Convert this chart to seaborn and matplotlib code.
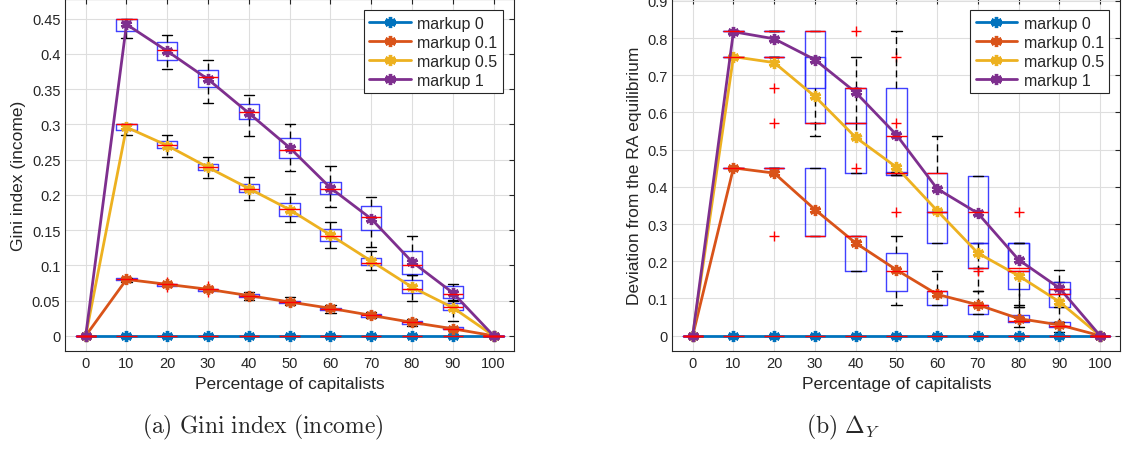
#!/usr/bin/env python3
"""
Gini index and deviation from the RA equilibrium vs percentage of capitalists.
Boxplots from summary stats + mean lines per markup level.
"""

import matplotlib
matplotlib.use("Agg")
import matplotlib.pyplot as plt
import seaborn as sns

# x positions (percentage of capitalists)
pct = [0, 10, 20, 30, 40, 50, 60, 70, 80, 90, 100]
markups = ["markup 0", "markup 0.1", "markup 0.5", "markup 1"]
colors = ["#0072BD", "#D95319", "#EDB120", "#7E2F8E"]
zeros = [0.0] * 11

# ---- (a) Gini index (income): mean lines
gini_m0 = zeros
gini_m01 = [0, 0.080, 0.073, 0.066, 0.057, 0.048, 0.039, 0.029, 0.019, 0.010, 0]
gini_m05 = [0, 0.296, 0.270, 0.239, 0.209, 0.179, 0.143, 0.106, 0.069, 0.040, 0]
gini_m1 = [0, 0.442, 0.404, 0.364, 0.316, 0.267, 0.210, 0.166, 0.105, 0.061, 0]

# box stats: q1, median, q3, whisker low, whisker high
gini_box_m01 = {
    "q1": [0, .079, .071, .064, .055, .046, .036, .027, .017, .009, 0],
    "med": [0, .080, .073, .066, .057, .048, .038, .029, .019, .010, 0],
    "q3": [0, .082, .074, .067, .059, .050, .040, .031, .021, .012, 0],
    "lo": [0, .076, .070, .063, .051, .043, .033, .025, .014, .008, 0],
    "hi": [0, .082, .075, .069, .062, .055, .043, .034, .024, .013, 0],
}
gini_fliers_m01 = {20: [0.077, 0.069], 30: [0.071, 0.062]}
gini_box_m05 = {
    "q1": [0, .292, .266, .235, .204, .170, .134, .101, .061, .036, 0],
    "med": [0, .300, .271, .239, .208, .180, .141, .103, .067, .041, 0],
    "q3": [0, .300, .277, .244, .216, .188, .152, .110, .079, .046, 0],
    "lo": [0, .285, .254, .224, .193, .161, .124, .093, .049, .021, 0],
    "hi": [0, .300, .285, .254, .225, .201, .162, .121, .086, .051, 0],
}
gini_box_m1 = {
    "q1": [0, .432, .391, .353, .307, .253, .201, .150, .087, .054, 0],
    "med": [0, .450, .405, .367, .317, .263, .208, .168, .101, .060, 0],
    "q3": [0, .450, .417, .377, .329, .281, .218, .184, .121, .070, 0],
    "lo": [0, .423, .378, .331, .283, .234, .183, .126, .086, .050, 0],
    "hi": [0, .450, .427, .392, .342, .300, .241, .197, .141, .073, 0],
}

# ---- (b) Deviation from the RA equilibrium: mean lines
dev_m0 = zeros
dev_m01 = [0, 0.451, 0.437, 0.339, 0.249, 0.177, 0.111, 0.083, 0.046, 0.029, 0]
dev_m05 = [0, 0.750, 0.734, 0.643, 0.533, 0.453, 0.336, 0.222, 0.161, 0.091, 0]
dev_m1 = [0, 0.817, 0.798, 0.742, 0.654, 0.540, 0.395, 0.329, 0.204, 0.128, 0]

dev_box_m01 = {
    "q1": [0, .45, .45, .267, .175, .120, .083, .057, .036, .022, 0],
    "med": [0, .45, .45, .267, .267, .175, .120, .083, .040, .025, 0],
    "q3": [0, .45, .45, .450, .267, .222, .120, .083, .056, .038, 0],
    "lo": [0, .45, .45, .267, .175, .083, .083, .057, .022, .010, 0],
    "hi": [0, .45, .45, .450, .267, .267, .175, .120, .077, .038, 0],
}
dev_fliers_m01 = {20: [0.267], 50: [0.333]}
dev_box_m05 = {
    "q1": [0, .75, .75, .571, .438, .433, .250, .183, .125, .077, 0],
    "med": [0, .75, .75, .571, .571, .438, .333, .183, .175, .111, 0],
    "q3": [0, .75, .75, .750, .571, .440, .333, .250, .250, .125, 0],
    "lo": [0, .75, .75, .538, .438, .433, .250, .120, .077, .036, 0],
    "hi": [0, .75, .75, .750, .667, .440, .333, .250, .250, .143, 0],
}
dev_fliers_m05 = {20: [0.667, 0.571], 50: [0.75, 0.571], 70: [0.175]}
dev_box_m1 = {
    "q1": [0, .818, .818, .667, .571, .438, .333, .250, .175, .111, 0],
    "med": [0, .818, .818, .818, .667, .538, .438, .333, .182, .125, 0],
    "q3": [0, .818, .818, .818, .667, .667, .438, .428, .250, .143, 0],
    "lo": [0, .818, .818, .571, .538, .433, .333, .183, .083, .077, 0],
    "hi": [0, .818, .818, .818, .750, .818, .538, .428, .250, .176, 0],
}
dev_fliers_m1 = {40: [0.818, 0.45], 80: [0.333]}


def box_stats(box, fliers):
    stats = []
    for i, x in enumerate(pct):
        stats.append({
            "q1": box["q1"][i], "med": box["med"][i], "q3": box["q3"][i],
            "whislo": box["lo"][i], "whishi": box["hi"][i],
            "fliers": fliers.get(x, []),
        })
    return stats


def draw_boxes(ax, stats):
    ax.bxp(
        stats, positions=pct, widths=5, showfliers=True,
        boxprops=dict(color="#2020FF", linewidth=1.0, alpha=0.85),
        medianprops=dict(color="#FF0000", linewidth=1.0),
        whiskerprops=dict(color="black", linewidth=1.0, linestyle=(0, (5, 3))),
        capprops=dict(color="black", linewidth=1.0),
        flierprops=dict(marker="+", markeredgecolor="#FF0000",
                        markersize=7, markeredgewidth=1.0),
        capwidths=2.5, manage_ticks=False,
    )


def draw_panel(ax, boxes, lines, ylim, yticks, yticklabels, ylabel):
    for box, fl in boxes:
        draw_boxes(ax, box_stats(box, fl))
    for vals, name, c in zip(lines, markups, colors):
        sns.lineplot(x=pct, y=vals, ax=ax, color=c, linewidth=2,
                     marker=(6, 2, 0), markersize=8, markeredgewidth=2.4,
                     markeredgecolor=c, markerfacecolor=c, label=name)
    ax.set_xlim(-5, 105)
    ax.set_ylim(*ylim)
    ax.set_xticks(pct)
    ax.set_xticklabels([str(p) for p in pct])
    ax.set_yticks(yticks)
    ax.set_yticklabels(yticklabels)
    ax.set_xlabel("Percentage of capitalists", fontsize=12.5, color="#262626")
    ax.set_ylabel(ylabel, fontsize=12.5, color="#262626")
    ax.grid(True, color="#dedede", linewidth=0.8)
    ax.set_axisbelow(True)
    ax.tick_params(direction="in", top=True, right=True, length=3.5,
                   labelsize=10.5, colors="#262626", width=0.8)
    for sp in ax.spines.values():
        sp.set_visible(True)
        sp.set_color("#262626")
        sp.set_linewidth(0.8)
    leg = ax.legend(loc="upper right", fontsize=11.5, fancybox=False,
                    framealpha=1, edgecolor="#262626", borderaxespad=0.7,
                    handlelength=2.6, handletextpad=0.4, labelspacing=0.25,
                    borderpad=0.35)
    leg.get_frame().set_linewidth(0.8)


sns.set_theme(style="whitegrid")
plt.rcParams["font.family"] = ["Liberation Sans", "DejaVu Sans"]
plt.rcParams["mathtext.fontset"] = "cm"

fig = plt.figure(figsize=(11.26, 4.52), dpi=100)
ax1 = fig.add_axes([0.058, 0.2206, 0.3985, 0.7794])
ax2 = fig.add_axes([0.5971, 0.2206, 0.398, 0.7794])

draw_panel(
    ax1,
    [(dict(q1=zeros, med=zeros, q3=zeros, lo=zeros, hi=zeros), {}),
     (gini_box_m01, gini_fliers_m01), (gini_box_m05, {}), (gini_box_m1, {})],
    [gini_m0, gini_m01, gini_m05, gini_m1],
    (-0.022, 0.478),
    [0, 0.05, 0.1, 0.15, 0.2, 0.25, 0.3, 0.35, 0.4, 0.45],
    ["0", "0.05", "0.1", "0.15", "0.2", "0.25", "0.3", "0.35", "0.4", "0.45"],
    "Gini index (income)",
)
draw_panel(
    ax2,
    [(dict(q1=zeros, med=zeros, q3=zeros, lo=zeros, hi=zeros), {}),
     (dev_box_m01, dev_fliers_m01), (dev_box_m05, dev_fliers_m05),
     (dev_box_m1, dev_fliers_m1)],
    [dev_m0, dev_m01, dev_m05, dev_m1],
    (-0.042, 0.905),
    [0, 0.1, 0.2, 0.3, 0.4, 0.5, 0.6, 0.7, 0.8, 0.9],
    ["0", "0.1", "0.2", "0.3", "0.4", "0.5", "0.6", "0.7", "0.8", "0.9"],
    "Deviation from the RA equilibrium",
)

fig.text(0.2336, 0.055, r"$\mathrm{(a)\ Gini\ index\ (income)}$",
         ha="center", va="center", fontsize=17)
fig.text(0.7487, 0.055, r"$\mathrm{(b)}\ \Delta_Y$",
         ha="center", va="center", fontsize=17)

fig.savefig("out.png", dpi=100)
